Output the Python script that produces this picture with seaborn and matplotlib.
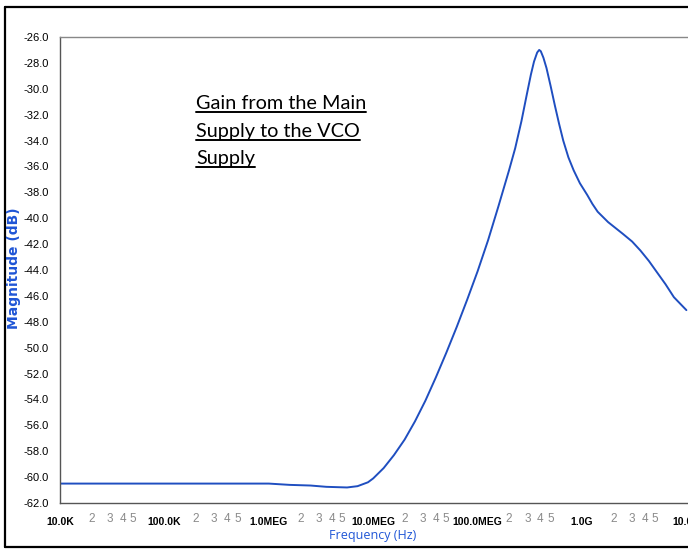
import matplotlib
matplotlib.use("Agg")
import matplotlib.pyplot as plt
import matplotlib.ticker as mticker
from matplotlib.lines import Line2D
import seaborn as sns
import pandas as pd

# ---- data ----
freq_hz = [10.0e3, 31.6e3, 100e3, 316e3, 1.0e6, 1.585e6, 2.51e6, 3.55e6, 5.62e6,
           7.08e6, 8.91e6, 10.0e6, 12.6e6, 15.8e6, 20.0e6, 25.1e6, 31.6e6, 39.8e6,
           50.1e6, 63.1e6, 79.4e6, 100e6, 126e6, 158e6, 200e6, 229e6, 263e6,
           295e6, 324e6, 347e6, 372e6, 389e6, 403e6, 427e6, 457e6, 501e6, 550e6,
           603e6, 661e6, 741e6, 832e6, 955e6, 1.122e9, 1.259e9, 1.413e9, 1.778e9,
           2.455e9, 3.02e9, 3.63e9, 4.37e9, 5.25e9, 6.31e9, 7.59e9, 8.71e9, 10.0e9]
magnitude_db = [-60.5, -60.5, -60.5, -60.5, -60.5, -60.6, -60.65, -60.75, -60.8,
                -60.7, -60.4, -60.1, -59.3, -58.3, -57.1, -55.7, -54.1, -52.3,
                -50.4, -48.4, -46.3, -44.1, -41.7, -39.1, -36.3, -34.6, -32.5,
                -30.5, -28.9, -27.9, -27.2, -27.0, -27.1, -27.6, -28.4, -29.8, -31.3,
                -32.7, -34.0, -35.3, -36.3, -37.3, -38.2, -38.9, -39.5, -40.3,
                -41.2, -41.8, -42.5, -43.3, -44.2, -45.1, -46.1, -46.6, -47.1]

x_major = [1e4, 1e5, 1e6, 1e7, 1e8, 1e9, 1e10]
x_major_labels = ["10.0K", "100.0K", "1.0MEG", "10.0MEG", "100.0MEG", "1.0G", "10.0G"]
y_major = [-26, -28, -30, -32, -34, -36, -38, -40, -42, -44, -46, -48, -50, -52,
           -54, -56, -58, -60, -62]
y_major_labels = ["-26.0", "-28.0", "-30.0", "-32.0", "-34.0", "-36.0", "-38.0",
                  "-40.0", "-42.0", "-44.0", "-46.0", "-48.0", "-50.0", "-52.0",
                  "-54.0", "-56.0", "-58.0", "-60.0", "-62.0"]
annotation_lines = ["Gain from the Main", "Supply to the VCO", "Supply"]

df = pd.DataFrame({"freq": freq_hz, "mag": magnitude_db})

sns.set_style("white")
plt.rcParams["font.family"] = ["Liberation Sans", "DejaVu Sans"]

W, H = 688, 549
fig = plt.figure(figsize=(W / 100, H / 100), dpi=100)
ax = fig.add_axes([60 / W, (H - 503) / H, (688 - 60) / W, (503 - 37) / H])

sns.lineplot(data=df, x="freq", y="mag", ax=ax, color="#1f4ec0", linewidth=1.4)

ax.set_xscale("log")
ax.set_xlim(1e4, 10 ** (4 + 628 / 104.4))
ax.set_ylim(-62, -26)

ax.xaxis.set_major_locator(mticker.FixedLocator(x_major))
ax.xaxis.set_major_formatter(mticker.FixedFormatter(x_major_labels))
minor_pos = [m * d for d in [1e4, 1e5, 1e6, 1e7, 1e8, 1e9] for m in range(2, 10)]
ax.xaxis.set_minor_locator(mticker.FixedLocator(minor_pos))

def minor_fmt(v, pos):
    m = v / 10 ** int(f"{v:e}".split("e")[1])
    m = round(m)
    return str(m) if m in (2, 3, 4, 5) else ""

ax.xaxis.set_minor_formatter(mticker.FuncFormatter(minor_fmt))

ax.yaxis.set_major_locator(mticker.FixedLocator(y_major))
ax.yaxis.set_major_formatter(mticker.FixedFormatter(y_major_labels))
ax.yaxis.set_minor_locator(mticker.MultipleLocator(1))

ax.tick_params(axis="x", which="major", direction="in", length=9, width=0.8,
               color="#555555", labelsize=7.5, labelcolor="black", pad=10)
ax.tick_params(axis="x", which="minor", direction="in", length=4, width=0.8,
               color="#aaaaaa", labelsize=8.5, labelcolor="#8a8a8a", pad=7)
ax.tick_params(axis="y", which="major", direction="out", length=6, width=0.8,
               color="#555555", labelsize=8, labelcolor="black", pad=2)
ax.tick_params(axis="y", which="minor", direction="out", length=3, width=0.8,
               color="#888888")
for lab in ax.get_xticklabels():
    lab.set_fontweight("bold")

for s in ["left", "bottom", "top"]:
    ax.spines[s].set_color("#555555")
    ax.spines[s].set_linewidth(1.0)
ax.spines["top"].set_color("#888888")
ax.spines["right"].set_visible(False)

ax.set_xlabel("")
ax.set_ylabel("")
fig.text(373 / W, 1 - 535 / H, "Frequency (Hz)", color="#1f55d6", fontsize=9,
         ha="center", va="center", family=["Open Sans", "DejaVu Sans"])
fig.text(14 / W, 1 - 268 / H, "Magnitude (dB)", color="#1f55d6", fontsize=10,
         fontweight="bold", rotation=90, ha="center", va="center",
         family=["DejaVu Sans"])

# annotation text with underline
baselines = [109, 137, 164]
texts = []
for line, b in zip(annotation_lines, baselines):
    t = fig.text(196 / W, 1 - b / H, line, fontsize=14.3, ha="left", va="baseline",
                 family=["Lato", "DejaVu Sans"], color="black")
    texts.append(t)
fig.canvas.draw()
r = fig.canvas.get_renderer()
for t, b in zip(texts, baselines):
    bb = t.get_window_extent(renderer=r)
    yy = 1 - (b + 3) / H
    fig.add_artist(Line2D([bb.x0 / W, bb.x1 / W], [yy, yy], color="black",
                          linewidth=1.4, transform=fig.transFigure))

# outer frame (left, top, bottom)
fx0, fy0, fy1 = 4.5 / W, 1 - 546.5 / H, 1 - 7 / H
for xs, ys in [([fx0, fx0], [fy0, fy1]), ([fx0, 1.01], [fy1, fy1]), ([fx0, 1.01], [fy0, fy0])]:
    fig.add_artist(Line2D(xs, ys, color="black", linewidth=1.6,
                          transform=fig.transFigure))

fig.savefig("out.png", dpi=100)
